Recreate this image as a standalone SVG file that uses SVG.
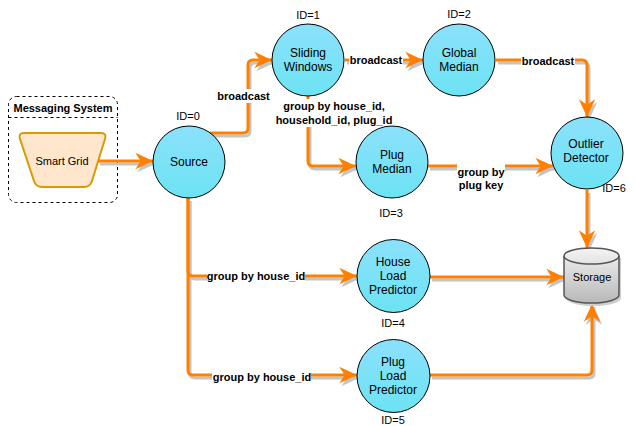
<svg xmlns="http://www.w3.org/2000/svg" width="636" height="426" viewBox="0 0 636 426">
<style>
.node{fill:url(#cyan);stroke:#000;stroke-width:1}
.nt{font-family:"Liberation Sans",Arial,sans-serif;font-size:12px;fill:#000;text-anchor:middle}
.id{font-family:"Liberation Sans",Arial,sans-serif;font-size:11px;fill:#000;text-anchor:middle}
.lb{font-family:"Liberation Sans",Arial,sans-serif;font-size:11px;font-weight:bold;fill:#000;text-anchor:middle}
.e{fill:none;stroke:#ff8000;stroke-width:3;marker-end:url(#arr)}
.es{fill:none;stroke:#c4c4c4;stroke-width:3;marker-end:url(#arrs)}
.bg{fill:#fff}
</style>
<defs>
<linearGradient id="cyan" x1="0" y1="0" x2="0" y2="1">
<stop offset="0" stop-color="#8be1fb"/>
<stop offset="1" stop-color="#6ce3f3"/>
</linearGradient>
<linearGradient id="gray" x1="0" y1="0" x2="0" y2="1">
<stop offset="0" stop-color="#f4f4f4"/>
<stop offset="1" stop-color="#b8b8b8"/>
</linearGradient>
<marker id="arr" markerUnits="userSpaceOnUse" markerWidth="20" markerHeight="20" viewBox="-16 -8 17 16" refX="0" refY="0" orient="auto">
<path d="M0,0 L-15,-7 L-10.5,0 L-15,7 Z" fill="#ff8000"/>
</marker>
<marker id="arrs" markerUnits="userSpaceOnUse" markerWidth="20" markerHeight="20" viewBox="-16 -8 17 16" refX="0" refY="0" orient="auto">
<path d="M0,0 L-15,-7 L-10.5,0 L-15,7 Z" fill="#c4c4c4"/>
</marker>
</defs>
<rect width="636" height="426" fill="#fff"/>

<g id="messaging-system">
<rect x="8.5" y="96.5" width="109" height="106" rx="8" fill="none" stroke="#000" stroke-dasharray="3,3"/>
<line x1="8.5" y1="117.5" x2="117.5" y2="117.5" stroke="#000" stroke-dasharray="3,3"/>
<text class="lb" x="63" y="112">Messaging System</text>
</g>

<g id="smart-grid">
<path d="M24,133 L101,133 Q107,133 105,139 L92,181 Q90,187 84,187 L42,187 Q36,187 34,181 L20,139 Q18,133 24,133 Z" fill="#ffe6cc" stroke="#d79b00" stroke-width="2"/>
<text class="nt" x="62" y="165" style="font-size:11px">Smart Grid</text>
</g>

<g id="connectors-shadow" transform="translate(2,3)">
<path class="es" d="M98,161 L153,161"/>
<path class="es" d="M210,133 L243,133 Q248,133 248,128 L248,65 Q248,60 253,60 L272,60"/>
<path class="es" d="M345,60 L423,60"/>
<path class="es" d="M496,60 L582,60 Q587,60 587,65 L587,117"/>
<path class="es" d="M308,96 L308,161 Q308,166 313,166 L356,166"/>
<path class="es" d="M428,166 L553,166"/>
<path class="es" d="M587,190 L587,248"/>
<path class="es" d="M188,198 L188,271 Q188,276 193,276 L357,276"/>
<path class="es" d="M188,198 L188,370 Q188,375 193,375 L357,375"/>
<path class="es" d="M430,277 L564,277"/>
<path class="es" d="M430,375 L587,375 Q592,375 592,370 L592,304"/>
</g>

<g id="connectors">
<path class="e" d="M98,161 L153,161"/>
<path class="e" d="M210,133 L243,133 Q248,133 248,128 L248,65 Q248,60 253,60 L272,60"/>
<path class="e" d="M345,60 L423,60"/>
<path class="e" d="M496,60 L582,60 Q587,60 587,65 L587,117"/>
<path class="e" d="M308,96 L308,161 Q308,166 313,166 L356,166"/>
<path class="e" d="M428,166 L553,166"/>
<path class="e" d="M587,190 L587,248"/>
<path class="e" d="M188,198 L188,271 Q188,276 193,276 L357,276"/>
<path class="e" d="M188,198 L188,370 Q188,375 193,375 L357,375"/>
<path class="e" d="M430,277 L564,277"/>
<path class="e" d="M430,375 L587,375 Q592,375 592,370 L592,304"/>
<rect class="bg" x="217" y="89" width="53" height="14"/>
<text class="lb" x="243.5" y="100">broadcast</text>
<rect class="bg" x="349" y="53" width="54" height="14"/>
<text class="lb" x="376" y="64">broadcast</text>
<rect class="bg" x="521" y="54" width="54" height="14"/>
<text class="lb" x="548" y="65">broadcast</text>
<rect class="bg" x="276" y="99" width="117" height="28"/>
<text class="lb" x="334" y="110">group by house_id,</text>
<text class="lb" x="334" y="124">household_id, plug_id</text>
<rect class="bg" x="457" y="164" width="48" height="28"/>
<text class="lb" x="481" y="176">group by</text>
<text class="lb" x="481" y="189">plug key</text>
<rect class="bg" x="207" y="269" width="98" height="14"/>
<text class="lb" x="256" y="280">group by house_id</text>
<rect class="bg" x="212" y="370" width="99" height="14"/>
<text class="lb" x="262" y="381">group by house_id</text>
</g>

<g id="source">
<circle class="node" cx="189" cy="162" r="36"/>
<text class="nt" x="189" y="166">Source</text>
<text class="id" x="188" y="120">ID=0</text>
</g>
<g id="sliding-windows">
<circle class="node" cx="308" cy="60" r="36"/>
<text class="nt" x="308" y="57">Sliding</text>
<text class="nt" x="308" y="71">Windows</text>
<text class="id" x="308" y="19">ID=1</text>
</g>
<g id="global-median">
<circle class="node" cx="459" cy="60" r="36"/>
<text class="nt" x="459" y="57">Global</text>
<text class="nt" x="459" y="71">Median</text>
<text class="id" x="459" y="18">ID=2</text>
</g>
<g id="plug-median">
<circle class="node" cx="392" cy="162" r="36"/>
<text class="nt" x="392" y="159">Plug</text>
<text class="nt" x="392" y="173">Median</text>
<text class="id" x="391" y="217">ID=3</text>
</g>
<g id="outlier-detector">
<circle class="node" cx="587" cy="153" r="36"/>
<text class="nt" x="586" y="148">Outlier</text>
<text class="nt" x="586" y="162">Detector</text>
<text class="id" x="614" y="192">ID=6</text>
</g>
<g id="house-load-predictor">
<circle class="node" cx="393.5" cy="276" r="36.5"/>
<text class="nt" x="393" y="266">House</text>
<text class="nt" x="393" y="280">Load</text>
<text class="nt" x="393" y="294">Predictor</text>
<text class="id" x="393" y="327">ID=4</text>
</g>
<g id="plug-load-predictor">
<circle class="node" cx="393.5" cy="376" r="36.5"/>
<text class="nt" x="393" y="366">Plug</text>
<text class="nt" x="393" y="380">Load</text>
<text class="nt" x="393" y="394">Predictor</text>
<text class="id" x="393" y="424">ID=5</text>
</g>
<g id="storage">
<path d="M566,259 A27.5,8 0 0 1 621,259 L621,298 A27.5,8 0 0 1 566,298 Z" fill="#cfcfcf"/>
<path d="M564,256 A27.5,8 0 0 1 619,256 L619,295 A27.5,8 0 0 1 564,295 Z" fill="url(#gray)" stroke="#555" stroke-width="1.5"/>
<path d="M564,256 A27.5,8 0 0 0 619,256" fill="none" stroke="#555" stroke-width="1.5"/>
<text class="id" x="592" y="281">Storage</text>
</g>
</svg>
